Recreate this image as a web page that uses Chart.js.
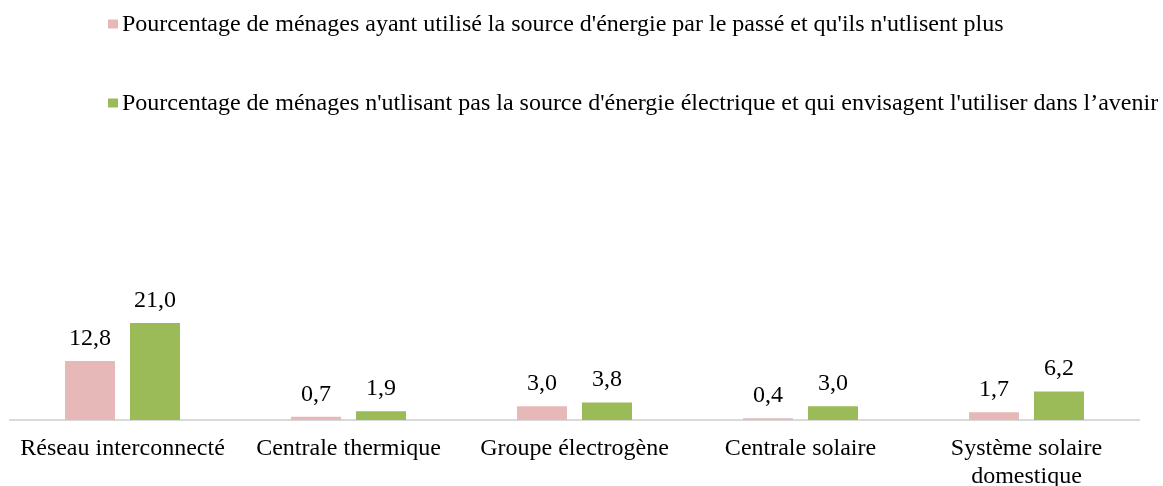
<!DOCTYPE html>
<html>
<head>
<meta charset="utf-8">
<script src="https://cdn.jsdelivr.net/npm/chart.js@4.4.1/dist/chart.umd.min.js"></script>
<style>
  html, body { margin: 0; padding: 0; background: #fff; }
  #wrap { width: 1163px; height: 486px; }
</style>
</head>
<body>
<div id="wrap"><canvas id="chart"></canvas></div>
<script>
// categories and series values
const categories = [
    'Réseau interconnecté',
    'Centrale thermique',
    'Groupe électrogène',
    'Centrale solaire',
    ['Système solaire', 'domestique']
];
const usedBefore = [12.8, 0.7, 3.0, 0.4, 1.7];
const considerFuture = [21.0, 1.9, 3.8, 3.0, 6.2];
const seriesLabels = [
    "Pourcentage de ménages ayant utilisé la source d'énergie par le passé et qu'ils n'utlisent plus",
    "Pourcentage de ménages n'utlisant pas la source d'énergie électrique et qui envisagent l'utiliser dans l’avenir"
];

const FONT = '"Liberation Serif", "Times New Roman", serif';
const FONT_SIZE = 24;

// legend drawn as two left-aligned rows
const rowLegend = {
    id: 'rowLegend',
    afterDraw(chart) {
        const ctx = chart.ctx;
        const rows = [24, 103];
        ctx.save();
        ctx.font = FONT_SIZE + 'px ' + FONT;
        ctx.textBaseline = 'middle';
        ctx.textAlign = 'left';
        chart.data.datasets.forEach((ds, i) => {
            ctx.fillStyle = ds.backgroundColor;
            ctx.fillRect(108, rows[i] - 4.5, 10, 9);
            ctx.fillStyle = '#000';
            ctx.fillText(ds.label, 122, rows[i] + 1);
        });
        ctx.restore();
    }
};

// value labels above bars, with comma decimal
const valueLabels = {
    id: 'valueLabels',
    afterDatasetsDraw(chart) {
        const ctx = chart.ctx;
        ctx.save();
        ctx.font = FONT_SIZE + 'px ' + FONT;
        ctx.fillStyle = '#000';
        ctx.textAlign = 'center';
        ctx.textBaseline = 'alphabetic';
        chart.data.datasets.forEach((ds, i) => {
            chart.getDatasetMeta(i).data.forEach((bar, j) => {
                const txt = ds.data[j].toFixed(1).replace('.', ',');
                ctx.fillText(txt, bar.x, bar.y - 16);
            });
        });
        ctx.restore();
    }
};

new Chart(document.getElementById('chart'), {
    type: 'bar',
    data: {
        labels: categories,
        datasets: [{
            label: seriesLabels[0],
            data: usedBefore,
            backgroundColor: '#E6B9B8'
        }, {
            label: seriesLabels[1],
            data: considerFuture,
            backgroundColor: '#9BBB59'
        }]
    },
    options: {
        responsive: true,
        maintainAspectRatio: false,
        animation: false,
        layout: {
            padding: { left: 9.5, right: 23.5, top: 97, bottom: 0 }
        },
        datasets: {
            bar: {
                categoryPercentage: 0.575,
                barPercentage: 0.77
            }
        },
        scales: {
            x: {
                grid: { display: false },
                border: { display: true, color: '#D9D9D9', width: 2 },
                ticks: {
                    color: '#000',
                    padding: 7,
                    maxRotation: 0,
                    font: { family: FONT, size: FONT_SIZE, lineHeight: 1.15 }
                },
                afterFit(axis) { axis.height = 66; }
            },
            y: {
                display: false,
                min: 0,
                max: 70
            }
        },
        plugins: {
            legend: { display: false },
            tooltip: { enabled: false }
        }
    },
    plugins: [rowLegend, valueLabels]
});
</script>
</body>
</html>
